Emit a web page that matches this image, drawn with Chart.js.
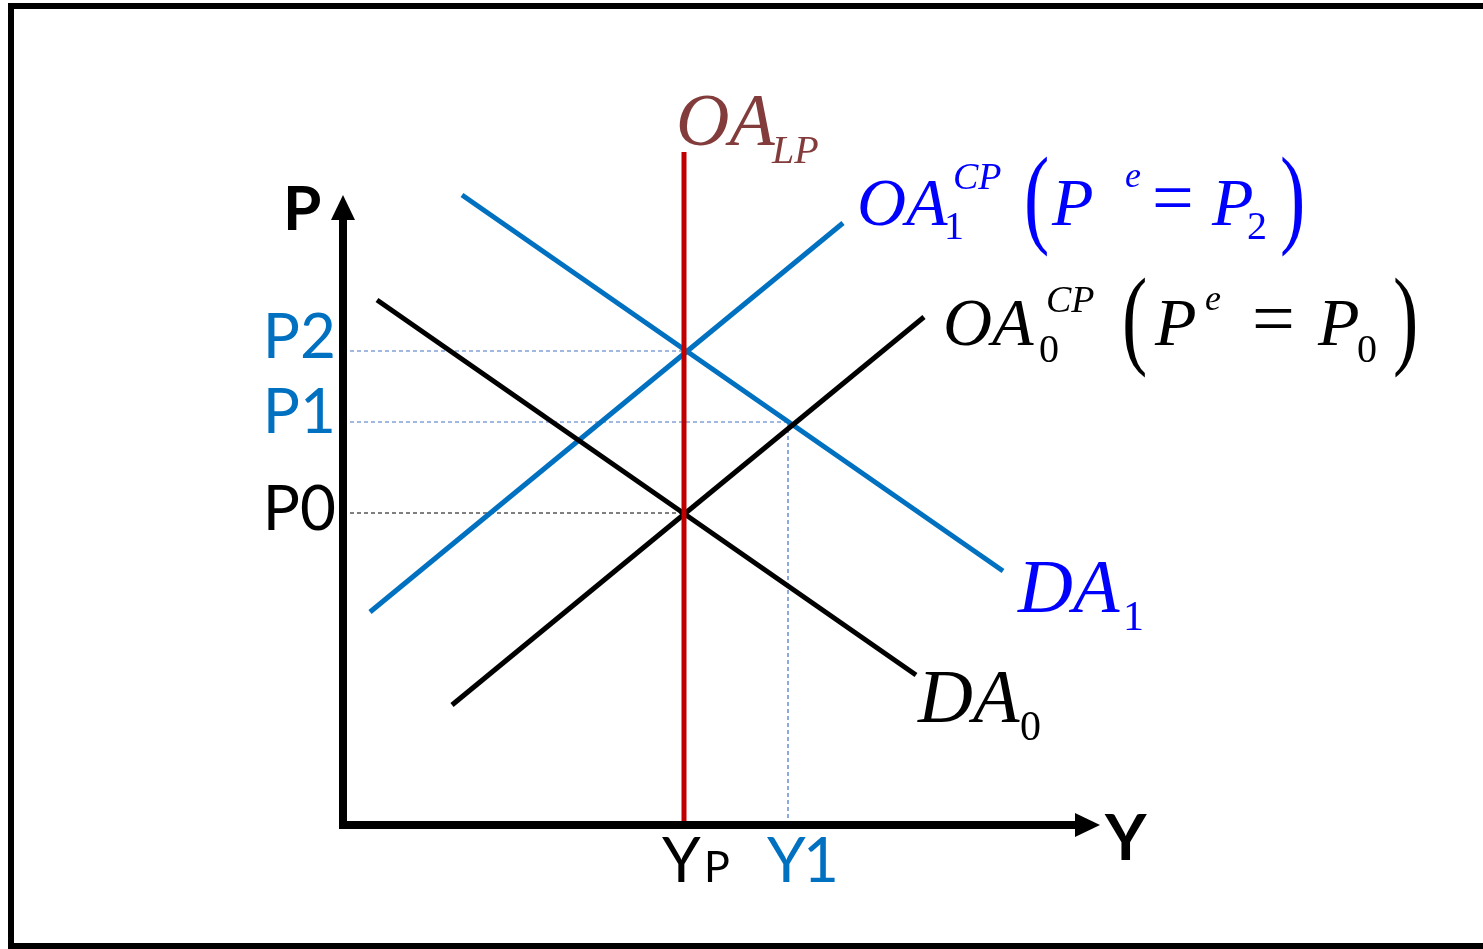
<!DOCTYPE html>
<html>
<head>
<meta charset="utf-8">
<title>OA - DA</title>
<script src="https://cdn.jsdelivr.net/npm/chart.js@4.4.1/dist/chart.umd.min.js"></script>
<style>
	html, body { margin: 0; background: #fff; overflow: hidden; }
	#grafico { display: block; }
</style>
</head>
<body>
<canvas id="grafico" width="1483" height="949"></canvas>
<script>
// niveles de precios y de producción (unidades del gráfico)
const levelNames = ['P0', 'P1', 'P2'];
const levelValues = [31.2, 40.3, 47.4];
const outputNames = ['YP', 'Y1'];
const outputValues = [34.1, 44.5];

// curvas: [Y, P] de cada extremo
const da0 = [[3.4, 52.5], [57.3, 15.0]];
const oa0 = [[10.9, 12.0], [58.1, 50.8]];
const da1 = [[11.9, 63.0], [66.0, 25.4]];
const oa1 = [[2.7, 21.3], [50.0, 60.2]];
const oaLpTop = 67.3;

// largo de los ejes
const axisYTop = 63.0;
const axisXEnd = 75.7;

const blueLine = '#0070C0';
const blueMath = '#0000FF';
const brown = '#833C3C';
const red = '#C00000';

const pts = arr => arr.map(p => ({ x: p[0], y: p[1] }));

function lineSet(data, color, width, extra) {
	return Object.assign({
		data: data,
		showLine: true,
		borderColor: color,
		borderWidth: width,
		pointRadius: 0,
		fill: false,
		tension: 0
	}, extra || {});
}

const datasets = [
	// ejes
	lineSet([{ x: -0.4, y: 0 }, { x: 0, y: 0 }, { x: axisXEnd - 2, y: 0 }], '#000', 8, { order: 0, borderCapStyle: 'butt' }),
	lineSet([{ x: 0, y: -0.4 }, { x: 0, y: axisYTop - 2 }], '#000', 8, { order: 0, borderCapStyle: 'butt' }),
	// OA largo plazo
	lineSet([{ x: outputValues[0], y: 0 }, { x: outputValues[0], y: oaLpTop }], red, 5, { order: 1, borderCapStyle: 'butt' }),
	// curvas
	lineSet(pts(da0), '#000', 5, { order: 2 }),
	lineSet(pts(oa0), '#000', 5, { order: 2 }),
	lineSet(pts(da1), blueLine, 5, { order: 2 }),
	lineSet(pts(oa1), blueLine, 5, { order: 2 }),
	// guias punteadas
	lineSet([{ x: 0, y: levelValues[2] }, { x: outputValues[0], y: levelValues[2] }], '#4472C4', 1.2, { order: 3, borderDash: [4, 3] }),
	lineSet([{ x: 0, y: levelValues[1] }, { x: outputValues[1], y: levelValues[1] }], '#4472C4', 1.2, { order: 3, borderDash: [4, 3] }),
	lineSet([{ x: outputValues[1], y: 0 }, { x: outputValues[1], y: levelValues[1] }], '#4472C4', 1.2, { order: 3, borderDash: [4, 3] }),
	lineSet([{ x: 0, y: levelValues[0] }, { x: outputValues[0], y: levelValues[0] }], '#000', 1.2, { order: 3, borderDash: [4, 3] })
];

// dibuja varios trozos de texto desde un punto ancla (pixeles)
function runs(ctx, ax, ay, color, list) {
	ctx.fillStyle = color;
	ctx.textBaseline = 'alphabetic';
	list.forEach(r => {
		ctx.font = r.f;
		ctx.textAlign = r.a || 'left';
		if (r.sy) {
			// parentesis alto y delgado
			ctx.save();
			ctx.translate(ax + r.dx, ay + r.dy);
			ctx.scale(1, r.sy);
			ctx.fillText(r.t, 0, 0);
			ctx.restore();
		} else {
			ctx.fillText(r.t, ax + r.dx, ay + r.dy);
		}
	});
}

const serifI = s => 'italic ' + s + 'px "Liberation Serif", "Times New Roman", serif';
const serif = s => s + 'px "Liberation Serif", "Times New Roman", serif';
const sans = s => s + 'px Lato, "Open Sans", sans-serif';
const sansB = s => 'bold ' + s + 'px Lato, "Open Sans", sans-serif';

const decor = {
	id: 'decor',
	beforeDraw(chart) {
		const ctx = chart.ctx;
		ctx.save();
		ctx.fillStyle = '#fff';
		ctx.fillRect(0, 0, chart.width, chart.height);
		ctx.restore();
	},
	afterDatasetsDraw(chart) {
		const ctx = chart.ctx;
		const sx = chart.scales.x, sy = chart.scales.y;
		const px = v => sx.getPixelForValue(v);
		const py = v => sy.getPixelForValue(v);
		ctx.save();

		// marco (sin borde derecho)
		ctx.strokeStyle = '#000';
		ctx.lineWidth = 6;
		ctx.beginPath();
		ctx.moveTo(chart.width + 10, 6);
		ctx.lineTo(11, 6);
		ctx.lineTo(11, 946);
		ctx.lineTo(chart.width + 10, 946);
		ctx.stroke();

		// puntas de flecha
		ctx.fillStyle = '#000';
		const x0 = px(0), yTip = py(axisYTop);
		ctx.beginPath();
		ctx.moveTo(x0, yTip);
		ctx.lineTo(x0 - 12, yTip + 25);
		ctx.lineTo(x0 + 12, yTip + 25);
		ctx.closePath();
		ctx.fill();
		const y0 = py(0), xTip = px(axisXEnd);
		ctx.beginPath();
		ctx.moveTo(xTip, y0);
		ctx.lineTo(xTip - 25, y0 - 12);
		ctx.lineTo(xTip - 25, y0 + 12);
		ctx.closePath();
		ctx.fill();

		// nombres de los ejes
		runs(ctx, x0, yTip, '#000', [{ t: 'P', f: sansB(62), dx: -60, dy: 35 }]);
		runs(ctx, xTip, y0, '#000', [{ t: 'Y', f: sansB(64), dx: 5, dy: 35 }]);

		// etiquetas de precios
		const offs = [17, 11, 7];
		const cols = ['#000', blueLine, blueLine];
		levelNames.forEach((n, i) => {
			runs(ctx, x0, py(levelValues[i]), cols[i], [{ t: n, f: sans(62), dx: -7, dy: offs[i], a: 'right' }]);
		});

		// etiquetas de producción
		runs(ctx, px(outputValues[0]), y0, '#000', [
			{ t: outputNames[0][0], f: sans(62), dx: -22, dy: 57 },
			{ t: outputNames[0][1], f: sans(43), dx: 20, dy: 57 }
		]);
		runs(ctx, px(outputValues[1]), y0, blueLine, [
			{ t: outputNames[1][0], f: sans(62), dx: -21, dy: 57 },
			{ t: outputNames[1][1], f: sans(62), dx: 15, dy: 57 }
		]);

		// OA_LP
		runs(ctx, px(outputValues[0]), py(oaLpTop), brown, [
			{ t: 'OA', f: serifI(74), dx: -8, dy: -7 },
			{ t: 'LP', f: serifI(40), dx: 88, dy: 11 }
		]);

		// OA1 CP (P e = P2)
		runs(ctx, px(oa1[1][0]), py(oa1[1][1]), blueMath, [
			{ t: 'OA', f: serifI(68), dx: 14, dy: 2 },
			{ t: '1', f: serif(40), dx: 101, dy: 16 },
			{ t: 'CP', f: serifI(38), dx: 110, dy: -34 },
			{ t: '(', f: serif(76), dx: 181, dy: 10, sy: 1.45 },
			{ t: 'P', f: serifI(68), dx: 209, dy: 2 },
			{ t: 'e', f: serifI(36), dx: 282, dy: -36 },
			{ t: '=', f: serif(74), dx: 309, dy: -1 },
			{ t: 'P', f: serifI(68), dx: 369, dy: 2 },
			{ t: '2', f: serif(40), dx: 404, dy: 16 },
			{ t: ')', f: serif(76), dx: 437, dy: 10, sy: 1.45 }
		]);

		// OA0 CP (Pe = P0)
		runs(ctx, px(oa0[1][0]), py(oa0[1][1]), '#000', [
			{ t: 'OA', f: serifI(68), dx: 19, dy: 28 },
			{ t: '0', f: serif(40), dx: 115, dy: 45 },
			{ t: 'CP', f: serifI(38), dx: 122, dy: -5 },
			{ t: '(', f: serif(76), dx: 198, dy: 37, sy: 1.45 },
			{ t: 'P', f: serifI(68), dx: 231, dy: 28 },
			{ t: 'e', f: serifI(36), dx: 281, dy: -7 },
			{ t: '=', f: serif(76), dx: 328, dy: 27 },
			{ t: 'P', f: serifI(68), dx: 394, dy: 28 },
			{ t: '0', f: serif(40), dx: 433, dy: 45 },
			{ t: ')', f: serif(76), dx: 469, dy: 37, sy: 1.45 }
		]);

		// DA1 y DA0
		runs(ctx, px(da1[1][0]), py(da1[1][1]), blueMath, [
			{ t: 'DA', f: serifI(76), dx: 15, dy: 41 },
			{ t: '1', f: serif(42), dx: 120, dy: 59 }
		]);
		runs(ctx, px(da0[1][0]), py(da0[1][1]), '#000', [
			{ t: 'DA', f: serifI(76), dx: 2, dy: 47 },
			{ t: '0', f: serif(42), dx: 104, dy: 65 }
		]);

		ctx.restore();
	}
};

function dibujar() {
	new Chart(document.getElementById('grafico'), {
		type: 'scatter',
		data: { datasets: datasets },
		options: {
			responsive: false,
			animation: false,
			devicePixelRatio: 1,
			layout: { padding: 0 },
			plugins: {
				legend: { display: false },
				tooltip: { enabled: false }
			},
			scales: {
				x: { type: 'linear', min: -34.3, max: 114.0, display: false },
				y: { type: 'linear', min: -12.4, max: 82.5, display: false }
			}
		},
		plugins: [decor]
	});
}

// cargar las fuentes locales antes de dibujar
Promise.all([
	document.fonts.load('62px Lato'),
	document.fonts.load('bold 62px Lato'),
	document.fonts.load('italic 68px "Liberation Serif"'),
	document.fonts.load('68px "Liberation Serif"')
]).then(dibujar, dibujar);
</script>
</body>
</html>
